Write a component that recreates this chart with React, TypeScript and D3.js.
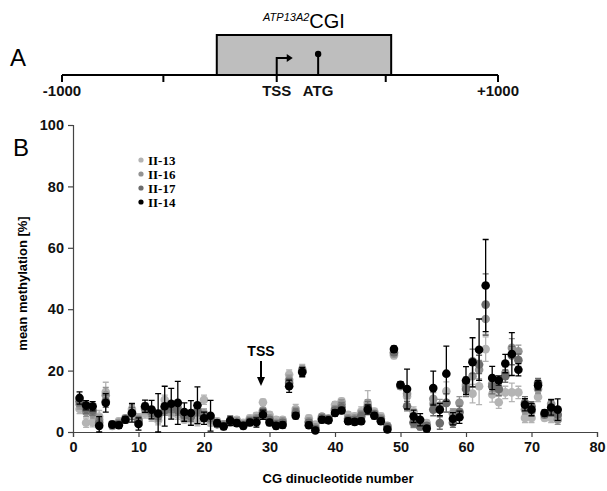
import React, { useRef, useEffect } from "react";
import { select, scaleLinear, axisLeft, axisBottom } from "d3";

// panel A: gene map (bp relative to region)
const mapTicks = [-1000, -535, 485, 1000];
const mapLabels = [
  { bp: -1000, text: "-1000" },
  { bp: -15, text: "TSS" },
  { bp: 175, text: "ATG" },
  { bp: 1000, text: "+1000" },
];
const cgiRange = [-290, 510];
const tssBp = -15;
const atgBp = 175;

// panel B: CG positions 1..74
const cgNumbers = Array.from({ length: 74 }, (_, i) => i + 1);
const seriesNames = ["II-13", "II-16", "II-17", "II-14"];
const seriesColors = ["#b4b4b4", "#939393", "#6c6c6c", "#000000"];

const ii13 = [7.5, 3.0, 3.2, 5.0, 13.0, 2.4, 3.5, 4.0, 7.5, 4.5, 6.0, 5.0, 3.8, 10.5, 6.0, 5.6, 4.0, 4.5, 3.5, 10.5,
  3.0, 3.5, 2.4, 3.0, 4.0, 3.0, 4.5, 5.3, 9.7, 5.6, 4.0, 4.0, 18.7, 7.5, 20.5, 4.5, 2.4, 4.2, 4.5, 8.9,
  10.0, 5.6, 5.1, 6.7, 9.5, 6.7, 5.1, 1.8, 24.9, 14.9, 11.6, 6.7, 2.4, 2.9, 9.2, 7.3, 13.3, 6.0, 6.7, 14.9,
  12.5, 14.9, 27.0, 12.2, 9.7, 12.9, 12.9, 12.9, 4.6, 4.6, 11.4, 4.6, 4.6, 5.1];
const ii16 = [9.0, 6.5, 6.0, 4.0, 12.0, 2.0, 3.0, 4.5, 6.5, 4.0, 7.5, 6.0, 5.0, 8.0, 7.0, 8.0, 5.0, 5.5, 6.5, 6.0,
  4.0, 3.0, 2.5, 3.5, 3.5, 2.5, 4.0, 4.5, 7.0, 4.5, 3.0, 3.5, 17.0, 6.5, 20.0, 3.5, 1.5, 5.0, 4.0, 7.5,
  9.0, 4.5, 4.5, 5.5, 8.5, 6.0, 4.5, 2.0, 25.5, 15.0, 12.5, 2.9, 1.8, 1.8, 10.8, 8.6, 9.5, 6.0, 9.5, 15.4,
  18.2, 20.3, 36.8, 15.7, 13.8, 19.2, 27.4, 26.3, 7.3, 6.7, 14.0, 5.7, 9.2, 4.0];
const ii17 = [10.0, 7.5, 7.0, 3.0, 10.0, 2.5, 2.5, 4.2, 6.0, 3.5, 8.0, 6.5, 5.5, 7.0, 8.0, 7.0, 5.5, 5.0, 7.0, 5.0,
  4.5, 2.5, 2.0, 3.2, 3.0, 2.2, 3.5, 4.0, 6.5, 4.0, 2.5, 3.0, 16.0, 6.0, 19.8, 3.0, 1.0, 4.5, 4.2, 7.0,
  8.0, 4.0, 4.0, 5.0, 8.0, 5.8, 4.0, 1.5, 26.0, 15.2, 8.4, 3.2, 1.8, 2.0, 7.3, 2.9, 9.5, 3.0, 6.4, 14.0,
  23.0, 22.0, 41.5, 14.9, 14.0, 18.2, 24.9, 23.4, 9.5, 8.4, 16.0, 5.7, 6.7, 5.7];
const ii14 = [11.1, 8.7, 8.4, 2.0, 9.5, 2.4, 2.2, 4.0, 6.2, 2.6, 8.4, 7.3, 6.0, 8.4, 9.2, 9.5, 6.5, 6.2, 8.7, 4.5,
  5.3, 2.9, 1.8, 3.7, 2.9, 2.0, 3.1, 3.1, 5.6, 3.1, 2.0, 2.3, 14.9, 5.3, 19.5, 2.2, 0.5, 4.0, 3.8, 6.2,
  7.0, 3.5, 3.3, 3.5, 7.3, 5.3, 3.5, 0.8, 27.0, 15.4, 14.0, 5.1, 4.0, 1.1, 14.3, 7.3, 19.0, 4.3, 4.8, 16.8,
  22.7, 26.8, 47.7, 17.6, 16.8, 22.3, 25.4, 20.3, 8.9, 7.3, 15.2, 6.2, 8.0, 7.3];

// standard deviations
const ii13Err = [1.5, 1.5, 1.5, 2, 3.2, 1, 1, 1, 2, 1.5, 1.5, 1.5, 1.5, 1.5, 1.5, 1.5, 1, 1.5, 1.5, 1.5,
  1, 1, 1, 1, 1, 1, 1, 1, 1, 1, 1, 1, 1.5, 1.5, 1.5, 1, 1, 1, 1, 1,
  1, 1, 1, 1.5, 4, 1, 1, 1, 1, 1, 1.5, 1.5, 1, 1, 2, 2, 3, 1.5, 2, 3,
  3, 6, 4, 2.5, 2, 2, 3, 2, 1.5, 1.5, 1.5, 1, 1.5, 1.5];
const ii16Err = [1.5, 1.5, 1.5, 1.5, 2.5, 1, 1, 1, 2, 1.5, 1.5, 1.5, 1.5, 1.5, 1.5, 1.5, 1, 1.5, 1.5, 1.5,
  1, 1, 1, 1, 1, 1, 1, 1, 1, 1, 1, 1, 1.5, 1.5, 1.5, 1, 1, 1, 1, 1,
  1.5, 1, 1, 1.5, 2, 1, 1, 1, 1, 1, 1.5, 1.5, 1, 1, 2, 2, 3, 1.5, 2, 2.5,
  3.5, 3, 5, 2.5, 2, 2, 3, 2, 1.5, 1.5, 1.5, 1, 1.5, 1.5];
const ii17Err = [1.5, 1.5, 1.5, 1.5, 2, 1, 1, 1, 2, 1.5, 1.5, 1.5, 1.5, 1.5, 1.5, 1.5, 1, 1.5, 1.5, 1.5,
  1, 1, 1, 1, 1, 1, 1, 1, 1, 1, 1, 1, 1.5, 1.5, 1.5, 1, 1, 1, 1, 1,
  1.5, 1, 1, 1.5, 2, 1, 1, 1, 1, 1, 1.5, 1.5, 1, 1, 2, 2, 3, 1.5, 2, 2.5,
  4, 3, 10, 2.5, 2, 2, 3, 2, 2, 1.5, 1.5, 1, 1.5, 2];
const ii14Err = [2, 1.5, 1.5, 3, 3, 1, 1, 1, 3, 2, 2, 3, 6.5, 6.5, 5, 7, 3, 4, 6, 2,
  5, 1, 1, 1.5, 1, 1, 1, 1.5, 1.5, 1, 1, 1, 2, 1, 1.5, 1, 1, 1, 1, 1,
  1, 1, 1, 1, 1.5, 1, 1, 1, 1, 1, 6.5, 2, 2, 1, 5.5, 2, 9, 2, 2, 4.5,
  8, 10, 15, 3.8, 1.5, 3, 7, 2, 2, 2, 1.5, 1, 2.5, 3.5];

const seriesValues = [ii13, ii16, ii17, ii14];
const seriesErrors = [ii13Err, ii16Err, ii17Err, ii14Err];

const yTicks = [0, 20, 40, 60, 80, 100];
const xTicks = [0, 10, 20, 30, 40, 50, 60, 70, 80];
const tssCG = 28.7;

const W = 607;
const H = 491;
const sans = "'Liberation Sans', Arial, sans-serif";

export default function App() {
  const svgRef = useRef<SVGSVGElement>(null);

  useEffect(() => {
    const svg = select(svgRef.current);
    svg.selectAll("*").remove();

    // ---------- panel A ----------
    const xA = scaleLinear().domain([-1000, 1000]).range([62, 498]);
    const lineY = 75;
    const gA = svg.append("g");

    gA.append("rect")
      .attr("x", xA(cgiRange[0]))
      .attr("y", 35)
      .attr("width", xA(cgiRange[1]) - xA(cgiRange[0]))
      .attr("height", lineY - 35)
      .attr("fill", "#bebebe")
      .attr("stroke", "#000")
      .attr("stroke-width", 2);

    gA.append("line")
      .attr("x1", xA(-1000)).attr("x2", xA(1000))
      .attr("y1", lineY).attr("y2", lineY)
      .attr("stroke", "#000").attr("stroke-width", 2);

    gA.selectAll(".maptick")
      .data(mapTicks)
      .join("line")
      .attr("x1", (d) => xA(d)).attr("x2", (d) => xA(d))
      .attr("y1", lineY).attr("y2", lineY + 7)
      .attr("stroke", "#000").attr("stroke-width", 2);

    // TSS bent arrow
    const tx = xA(tssBp);
    gA.append("path")
      .attr("d", `M${tx},${lineY + 7}V${lineY - 17}H${tx + 12}`)
      .attr("fill", "none").attr("stroke", "#000").attr("stroke-width", 2);
    gA.append("path")
      .attr("d", `M${tx + 16},${lineY - 17}l-6,-4v8z`)
      .attr("fill", "#000");

    // ATG lollipop
    const ax = xA(atgBp);
    gA.append("line")
      .attr("x1", ax).attr("x2", ax)
      .attr("y1", lineY).attr("y2", lineY - 21)
      .attr("stroke", "#000").attr("stroke-width", 2);
    gA.append("circle").attr("cx", ax).attr("cy", lineY - 21).attr("r", 3.2).attr("fill", "#000");

    gA.selectAll(".maplabel")
      .data(mapLabels)
      .join("text")
      .attr("x", (d) => xA(d.bp))
      .attr("y", 96)
      .attr("text-anchor", "middle")
      .attr("font-family", sans)
      .attr("font-weight", "bold")
      .attr("font-size", 15)
      .attr("fill", "#111")
      .text((d) => d.text);

    const title = gA.append("text")
      .attr("x", 304).attr("y", 28)
      .attr("text-anchor", "middle")
      .attr("font-family", sans);
    title.append("tspan")
      .attr("font-size", 11)
      .attr("font-style", "italic")
      .attr("dy", -7)
      .text("ATP13A2");
    title.append("tspan")
      .attr("font-size", 20)
      .attr("dy", 7)
      .text("CGI");

    svg.append("text")
      .attr("x", 10).attr("y", 66)
      .attr("font-family", sans).attr("font-size", 24)
      .text("A");

    // ---------- panel B ----------
    const x = scaleLinear().domain([0, 80]).range([73, 597]);
    const y = scaleLinear().domain([0, 100]).range([432, 125]);

    svg.append("text")
      .attr("x", 13).attr("y", 156)
      .attr("font-family", sans).attr("font-size", 24)
      .text("B");

    const gy = svg.append("g").attr("transform", `translate(${x(0)},0)`)
      .call(axisLeft(y).tickValues(yTicks).tickSize(5).tickPadding(4));
    const gx = svg.append("g").attr("transform", `translate(0,${y(0)})`)
      .call(axisBottom(x).tickValues(xTicks).tickSize(5).tickPadding(5));
    [gy, gx].forEach((g) => {
      g.select(".domain").attr("stroke", "#444").attr("stroke-width", 1.2);
      g.selectAll(".tick line").attr("stroke", "#444").attr("stroke-width", 1.2);
      g.selectAll(".tick text")
        .attr("font-family", sans)
        .attr("font-weight", "bold")
        .attr("font-size", 14.5)
        .attr("fill", "#111");
    });

    svg.append("text")
      .attr("x", 338).attr("y", 483)
      .attr("text-anchor", "middle")
      .attr("font-family", sans).attr("font-weight", "bold").attr("font-size", 13)
      .text("CG dinucleotide number");

    svg.append("text")
      .attr("transform", `translate(27,${(y(0) + y(100)) / 2 + 5}) rotate(-90)`)
      .attr("text-anchor", "middle")
      .attr("font-family", sans).attr("font-weight", "bold").attr("font-size", 13)
      .text("mean methylation [%]");

    // series with error bars
    seriesValues.forEach((vals, s) => {
      const errs = seriesErrors[s];
      const color = seriesColors[s];
      const g = svg.append("g");
      const pts = cgNumbers.map((cg, i) => ({ cg, v: vals[i], e: errs[i] }));
      g.selectAll(".whisker")
        .data(pts)
        .join("path")
        .attr("d", (d) => {
          const cx = x(d.cg);
          const top = y(d.v + d.e);
          const bot = y(Math.max(0, d.v - d.e));
          return `M${cx},${top}V${bot}M${cx - 3},${top}H${cx + 3}M${cx - 3},${bot}H${cx + 3}`;
        })
        .attr("fill", "none")
        .attr("stroke", s === 3 ? "#000" : color)
        .attr("stroke-width", 1.3);
      g.selectAll("circle")
        .data(pts)
        .join("circle")
        .attr("cx", (d) => x(d.cg))
        .attr("cy", (d) => y(d.v))
        .attr("r", 4.3)
        .attr("fill", color);
    });

    // TSS marker
    const tssX = x(tssCG);
    svg.append("line")
      .attr("x1", tssX).attr("x2", tssX)
      .attr("y1", 361).attr("y2", 378)
      .attr("stroke", "#000").attr("stroke-width", 2);
    svg.append("path")
      .attr("d", `M${tssX - 4},377L${tssX + 4},377L${tssX},386Z`)
      .attr("fill", "#000");
    svg.append("text")
      .attr("x", tssX).attr("y", 356)
      .attr("text-anchor", "middle")
      .attr("font-family", sans).attr("font-weight", "bold").attr("font-size", 14)
      .text("TSS");

    // legend
    const lg = svg.append("g");
    seriesNames.forEach((name, i) => {
      const ly = 160 + i * 14;
      lg.append("circle").attr("cx", 141).attr("cy", ly).attr("r", 2.6).attr("fill", seriesColors[i]);
      lg.append("text")
        .attr("x", 148).attr("y", ly + 4.5)
        .attr("font-family", "'Liberation Serif', 'Times New Roman', serif")
        .attr("font-weight", "bold")
        .attr("font-size", 13)
        .text(name);
    });
  }, []);

  return (
    <svg
      ref={svgRef}
      width={W}
      height={H}
      style={{ position: "absolute", left: 0, top: 0, background: "#fff" }}
    />
  );
}
